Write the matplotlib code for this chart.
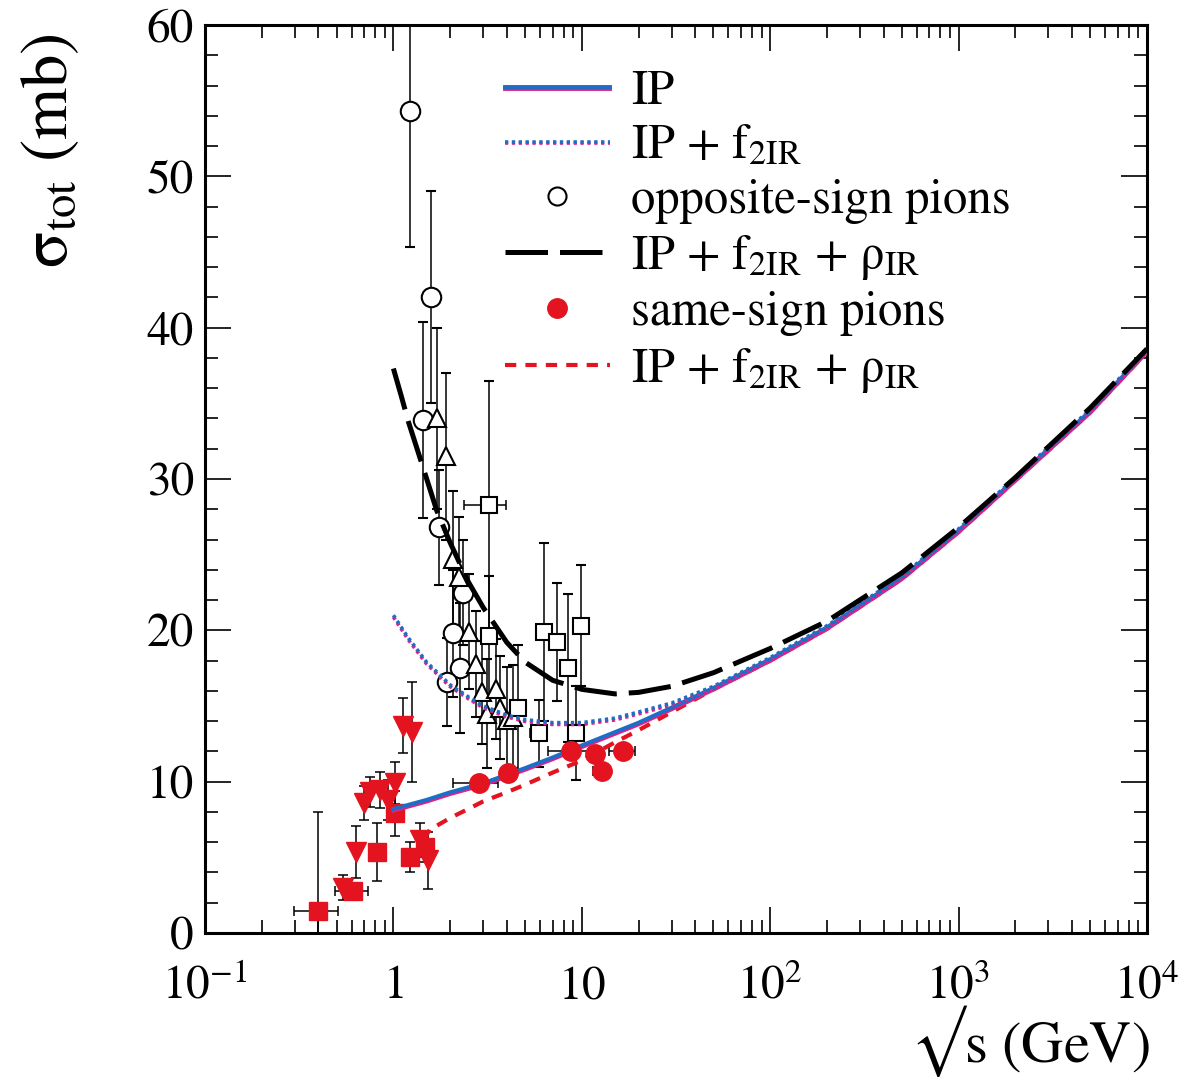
"""
total cross section vs sqrt(s): pion data and Regge fits
"""
import numpy as np
import matplotlib.pyplot as plt
import matplotlib.patheffects as pe
from matplotlib.lines import Line2D
from matplotlib.ticker import MultipleLocator, LogLocator, NullFormatter

plt.rcParams['font.family'] = 'STIXGeneral'
plt.rcParams['mathtext.fontset'] = 'stix'

RED = '#e3141f'
BLUE = '#1c6fc4'
MAG = '#e0208c'

''' ==== theory curves (read off the figure) ==== '''
ip_x = [1, 1.5, 2, 3, 5, 7, 10, 20, 30, 50, 100, 200, 500, 1000, 2000, 5000, 10000]
ip_y = [8.2, 8.8, 9.3, 9.9, 10.9, 11.6, 12.4, 13.9, 14.9, 16.2, 18.1, 20.2, 23.5, 26.6, 30.0, 34.5, 38.5]

f2_x = [1, 1.2, 1.5, 2, 2.5, 3, 4, 5, 7, 10, 15, 20, 30, 50, 100, 200, 500, 1000, 2000, 5000, 10000]
f2_y = [21.0, 19.5, 17.9, 16.4, 15.6, 15.0, 14.4, 14.1, 13.9, 13.9, 14.2, 14.6, 15.2, 16.3, 18.2, 20.3, 23.6, 26.7, 30.1, 34.6, 38.6]

os_fit_x = [1, 1.1, 1.2, 1.4, 1.7, 2, 2.5, 3, 4, 5, 7, 10, 15, 20, 30, 50, 100, 200, 500, 1000, 2000, 5000, 10000]
os_fit_y = [37.3, 35.5, 33.8, 31.2, 27.9, 25.8, 23.2, 21.5, 19.2, 17.9, 16.7, 16.1, 15.8, 15.9, 16.3, 17.2, 18.8, 20.6, 23.8, 26.8, 30.1, 34.7, 38.6]

ss_fit_x = [1.4, 1.6, 2, 2.5, 3, 4, 5, 7, 10, 15, 20, 30, 50, 100, 200, 500, 1000, 2000, 5000, 10000]
ss_fit_y = [6.3, 6.9, 7.6, 8.2, 8.7, 9.3, 9.8, 10.6, 11.4, 12.6, 13.4, 14.6, 16.1, 18.0, 20.1, 23.4, 26.5, 29.9, 34.4, 38.4]

''' ==== opposite-sign pion data ==== '''
osc_x = [1.23, 1.59, 1.44, 1.75, 2.35, 2.06, 2.27, 1.93]
osc_y = [54.3, 42.0, 33.9, 26.8, 22.5, 19.8, 17.5, 16.6]
osc_e = [9.0, 7.0, 6.5, 3.8, 3.5, 4.2, 4.3, 2.9]

ost_x = [1.71, 1.91, 2.08, 2.24, 2.53, 2.76, 2.97, 3.52, 3.15, 3.70, 4.02, 4.33]
ost_y = [34.0, 31.5, 24.7, 23.5, 19.9, 17.8, 15.9, 16.1, 14.5, 14.9, 14.1, 14.3]
ost_e = [6.0, 5.5, 4.5, 4.0, 3.8, 3.5, 3.4, 3.3, 3.6, 3.4, 3.5, 3.4]

oss_x = [3.23, 6.33, 7.4, 9.9, 8.4, 5.9, 9.35, 4.6, 3.2]
oss_y = [28.3, 19.9, 19.2, 20.3, 17.5, 13.2, 13.2, 14.9, 19.6]
oss_e = [8.2, 5.9, 3.9, 4.0, 4.9, 2.2, 3.1, 4.1, 4.0]
oss_xlo = [0.85, 0, 0, 0, 0, 0.6, 0, 0, 0]
oss_xhi = [0.75, 0, 0, 0, 0, 0.6, 0, 0, 0]

''' ==== same-sign pion data ==== '''
ssc_x = [2.83, 4.08, 8.8, 11.7, 12.8, 16.6]
ssc_y = [9.9, 10.6, 12.0, 11.8, 10.7, 12.0]
ssc_xe = [0.75, 0, 2.2, 0, 1.4, 2.6]

sss_x = [0.40, 0.61, 0.82, 1.02, 1.23, 1.48]
sss_y = [1.45, 2.8, 5.35, 7.9, 5.0, 5.7]
sss_e = [6.55, 0.5, 1.9, 1.5, 1.0, 1.0]
sss_xe = [0.105, 0.12, 0, 0, 0, 0]

sst_x = [1.12, 1.26, 1.02, 0.75, 0.85, 0.94, 0.70, 0.63, 0.54, 1.53, 1.39]
sst_y = [13.7, 13.3, 9.9, 9.3, 9.45, 8.8, 8.6, 5.35, 3.0, 4.8, 6.15]
sst_e = [1.8, 3.3, 1.4, 1.0, 1.2, 1.3, 1.1, 1.7, 0.8, 1.9, 1.1]

#---- plot
fig = plt.figure(figsize=(11.89, 10.83), dpi=100)
ax = fig.add_axes([205/1189, 150/1083, 942/1189, 908/1083])
for axis in ['top', 'bottom', 'left', 'right']:
    ax.spines[axis].set_linewidth(2.2)

ebar = dict(ecolor='k', elinewidth=1.1, capsize=3.8, capthick=1.1)

# opposite-sign data (open markers)
ax.errorbar(osc_x, osc_y, yerr=osc_e, fmt='o', ms=14, mfc='white', mec='k', mew=1.5, zorder=3, **ebar)
ax.errorbar(ost_x, ost_y, yerr=ost_e, fmt='^', ms=13, mfc='white', mec='k', mew=1.5, zorder=3, **ebar)
ax.errorbar(oss_x, oss_y, yerr=oss_e, fmt='s', ms=11.5, mfc='white', mec='k', mew=1.5, zorder=3, **ebar)
m = np.array(oss_xlo) > 0
ax.errorbar(np.array(oss_x)[m], np.array(oss_y)[m],
            xerr=[np.array(oss_xlo)[m], np.array(oss_xhi)[m]], fmt='none', zorder=2.9, **ebar)

# same-sign data (filled red)
ax.errorbar(sst_x, sst_y, yerr=sst_e, fmt='v', ms=14, color=RED, zorder=3, **ebar)
ax.errorbar(sss_x, sss_y, yerr=sss_e, fmt='s', ms=13, color=RED, zorder=3, **ebar)
m = np.array(sss_xe) > 0
ax.errorbar(np.array(sss_x)[m], np.array(sss_y)[m], xerr=np.array(sss_xe)[m], fmt='none', zorder=2.9, **ebar)
m = np.array(ssc_xe) > 0
ax.errorbar(np.array(ssc_x)[m], np.array(ssc_y)[m], xerr=np.array(ssc_xe)[m], fmt='none', zorder=2.9, **ebar)

# curves: blue line with a magenta shadow just below it
shadow = [pe.SimpleLineShadow(offset=(0, -1.3), shadow_color=MAG, alpha=1.0, rho=1.0), pe.Normal()]
ss_fit, = ax.plot(ss_fit_x, ss_fit_y, color=RED, lw=3.0, ls=(0, (2.7, 2.2)), zorder=3.0)
ip_line, = ax.plot(ip_x, ip_y, color=BLUE, lw=2.8, zorder=3.3, path_effects=shadow)
f2_line, = ax.plot(f2_x, f2_y, color=BLUE, lw=2.6, ls=(0, (0.9, 1.0)), zorder=4.1, path_effects=shadow)
os_fit, = ax.plot(os_fit_x, os_fit_y, color='k', lw=3.6, ls=(0, (8.5, 2.4)), zorder=4.2)

ax.plot(ssc_x, ssc_y, 'o', ms=14, color=RED, zorder=5)

# axes
ax.set_xscale('log')
ax.set_xlim(0.1, 1e4)
ax.set_ylim(0, 60)
ax.set_xticks([0.1, 1, 10, 100, 1000, 10000],
              [r'$10^{-1}$', r'$1$', r'$10$', r'$10^{2}$', r'$10^{3}$', r'$10^{4}$'], va='baseline')
ax.xaxis.set_minor_locator(LogLocator(base=10, subs=np.arange(2, 10), numticks=20))
ax.xaxis.set_minor_formatter(NullFormatter())
ax.set_yticks(np.arange(0, 61, 10))
ax.yaxis.set_minor_locator(MultipleLocator(2))
ax.tick_params(which='both', direction='in', top=True, right=True, width=1.2)
ax.tick_params(which='major', length=19)
ax.tick_params(which='minor', length=9.5)
ax.tick_params(axis='x', which='major', pad=47, labelsize=34)
ax.tick_params(axis='y', which='major', pad=8, labelsize=34)

ax.set_xlabel('$\u221a$s (GeV)', fontsize=42, ha='right', va='baseline')
ax.xaxis.set_label_coords(1.003, -0.142)
ax.set_ylabel('σ$_{\\rm tot}$ (mb)', fontsize=48)
ax.yaxis.set_label_coords(-0.13, 0.862)

# legend
circ_h = Line2D([], [], marker='o', ls='none', mfc='white', mec='k', mew=1.5, ms=13)
dot_h = Line2D([], [], marker='o', ls='none', color=RED, ms=14)
handles = [ip_line, f2_line, circ_h, os_fit, dot_h, ss_fit]
labels = ['IP', r'IP + f$_{\rm 2IR}$', 'opposite-sign pions',
          r'IP + f$_{\rm 2IR}$ + ρ$_{\rm IR}$', 'same-sign pions',
          r'IP + f$_{\rm 2IR}$ + ρ$_{\rm IR}$']
ax.legend(handles, labels, loc='upper left', bbox_to_anchor=(0.318, 0.95), frameon=False,
          fontsize=35, handlelength=2.16, handletextpad=0.45, labelspacing=0.19,
          borderpad=0, borderaxespad=0)

plt.savefig('out.png', dpi=100)
plt.close()
